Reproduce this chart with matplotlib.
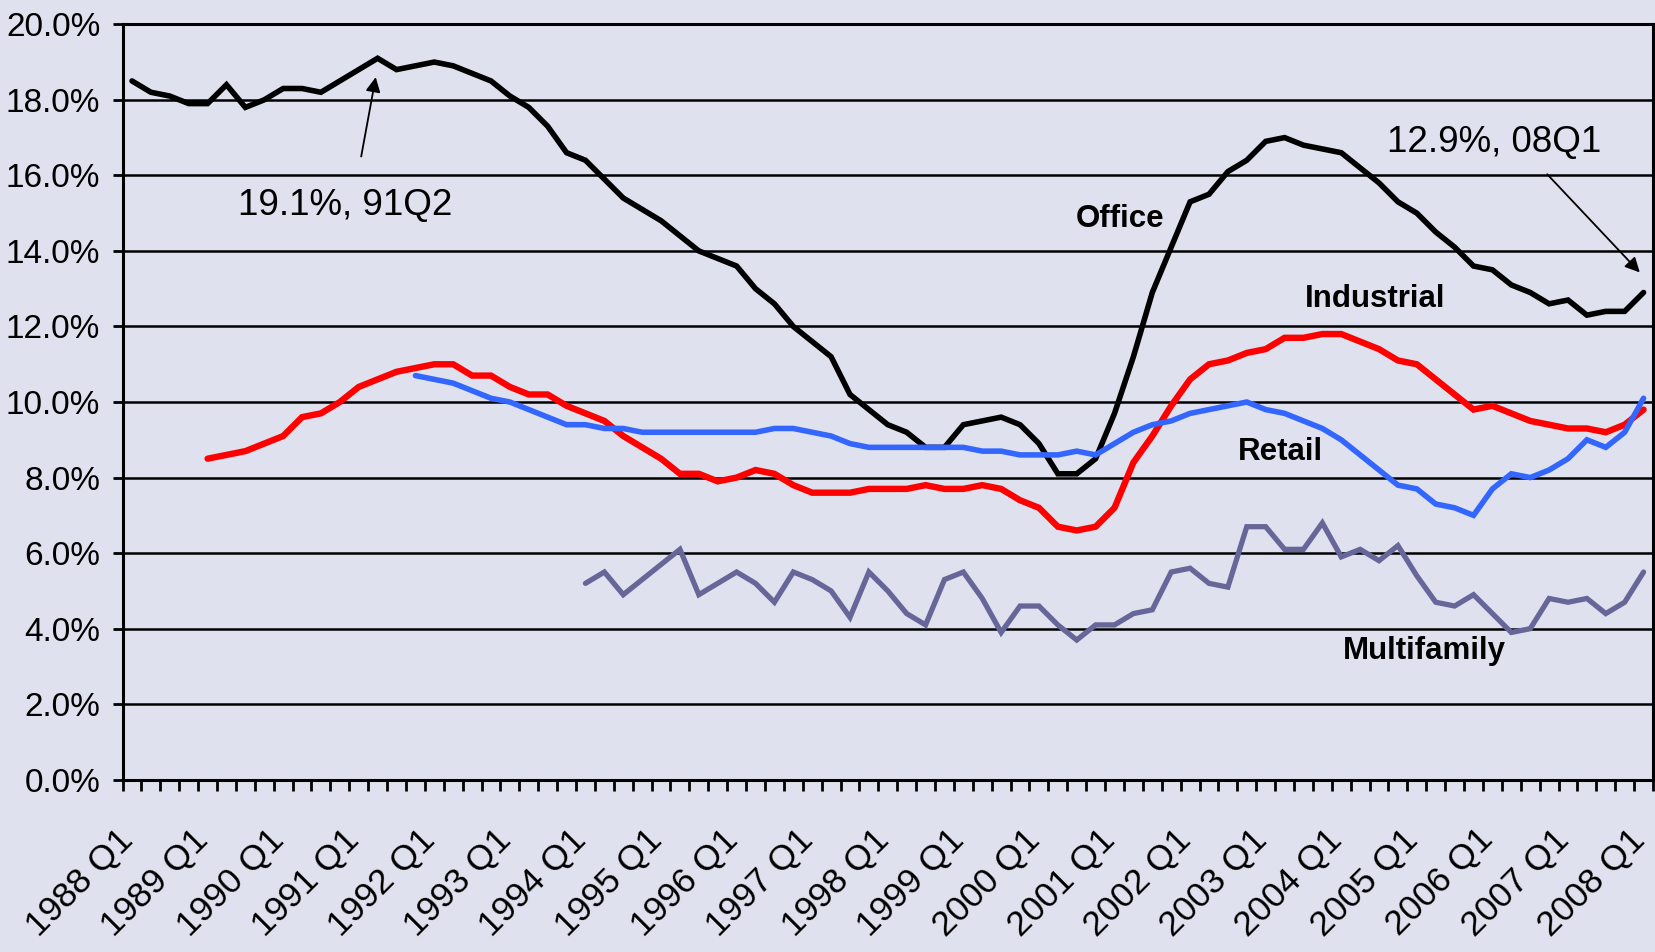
import numpy as np
import matplotlib
matplotlib.use("Agg")
import matplotlib.pyplot as plt
from matplotlib.ticker import FixedLocator, FuncFormatter
from matplotlib.transforms import ScaledTranslation

# ---------------- data ----------------
years = list(range(1988, 2009))
quarters = [f"{y} Q{q}" for y in years for q in range(1, 5)]
quarters = quarters[:quarters.index("2008 Q1") + 1]

office = [18.5, 18.2, 18.1, 17.9, 17.9, 18.4, 17.8, 18.0, 18.3, 18.3,
          18.2, 18.5, 18.8, 19.1, 18.8, 18.9, 19.0, 18.9, 18.7, 18.5,
          18.1, 17.8, 17.3, 16.6, 16.4, 15.9, 15.4, 15.1, 14.8, 14.4,
          14.0, 13.8, 13.6, 13.0, 12.6, 12.0, 11.6, 11.2, 10.2, 9.8,
          9.4, 9.2, 8.8, 8.8, 9.4, 9.5, 9.6, 9.4, 8.9, 8.1,
          8.1, 8.5, 9.7, 11.2, 12.9, 14.1, 15.3, 15.5, 16.1, 16.4,
          16.9, 17.0, 16.8, 16.7, 16.6, 16.2, 15.8, 15.3, 15.0, 14.5,
          14.1, 13.6, 13.5, 13.1, 12.9, 12.6, 12.7, 12.3, 12.4, 12.4,
          12.9]
office_start = "1988 Q1"

industrial = [8.5, 8.6, 8.7, 8.9, 9.1, 9.6, 9.7, 10.0, 10.4, 10.6, 10.8,
              10.9, 11.0, 11.0, 10.7, 10.7, 10.4,
              10.2, 10.2, 9.9, 9.7, 9.5,
              9.1, 8.8, 8.5, 8.1, 8.1,
              7.9, 8.0, 8.2, 8.1, 7.8,
              7.6, 7.6, 7.6, 7.7, 7.7,
              7.7, 7.8, 7.7, 7.7, 7.8,
              7.7, 7.4, 7.2, 6.7, 6.6,
              6.7, 7.2, 8.4, 9.1, 9.9,
              10.6, 11.0, 11.1, 11.3, 11.4,
              11.7, 11.7, 11.8, 11.8, 11.6,
              11.4, 11.1, 11.0, 10.6, 10.2,
              9.8, 9.9, 9.7, 9.5, 9.4,
              9.3, 9.3, 9.2, 9.4, 9.8]
industrial_start = "1989 Q1"

retail = [10.7, 10.6, 10.5, 10.3, 10.1, 10.0, 9.8, 9.6, 9.4, 9.4,
          9.3, 9.3, 9.2, 9.2, 9.2, 9.2, 9.2, 9.2, 9.2, 9.3,
          9.3, 9.2, 9.1, 8.9, 8.8, 8.8, 8.8, 8.8, 8.8, 8.8,
          8.7, 8.7, 8.6, 8.6, 8.6, 8.7, 8.6, 8.9, 9.2, 9.4,
          9.5, 9.7, 9.8, 9.9, 10.0, 9.8, 9.7, 9.5, 9.3, 9.0,
          8.6, 8.2, 7.8, 7.7, 7.3, 7.2, 7.0, 7.7, 8.1, 8.0,
          8.2, 8.5, 9.0, 8.8, 9.2, 10.1]
retail_start = "1991 Q4"

multifamily = [5.2, 5.5, 4.9, 5.3, 5.7, 6.1, 4.9, 5.2, 5.5, 5.2,
               4.7, 5.5, 5.3, 5.0, 4.3, 5.5, 5.0, 4.4, 4.1, 5.3,
               5.5, 4.8, 3.9, 4.6, 4.6, 4.1, 3.7, 4.1, 4.1, 4.4,
               4.5, 5.5, 5.6, 5.2, 5.1, 6.7, 6.7, 6.1, 6.1, 6.8,
               5.9, 6.1, 5.8, 6.2, 5.4, 4.7, 4.6, 4.9, 4.4, 3.9,
               4.0, 4.8, 4.7, 4.8, 4.4, 4.7, 5.5]
multifamily_start = "1994 Q1"

y_ticks = [0, 2, 4, 6, 8, 10, 12, 14, 16, 18, 20]
label_every = 4

# ---------------- style ----------------
BG = "#DFE1EE"
ARIAL = ["Liberation Sans", "DejaVu Sans"]

fig = plt.figure(figsize=(16.56, 9.52), dpi=100, facecolor=BG)
ax = fig.add_axes([0.0740, 0.1809, 0.9242, 0.7936], facecolor=BG)

def xs_for(start, vals):
    i0 = quarters.index(start)
    return np.arange(i0, i0 + len(vals))

series = [
    (office, office_start, "#000000", 4.0),
    (industrial, industrial_start, "#FF0000", 4.6),
    (retail, retail_start, "#3366FF", 4.0),
    (multifamily, multifamily_start, "#666699", 3.8),
]
for vals, start, col, lw in series:
    ax.plot(xs_for(start, vals), vals, color=col, lw=lw,
            solid_joinstyle="miter", solid_capstyle="round", zorder=3)

n = len(quarters)
ax.set_xlim(-0.5, n - 0.5)
ax.set_ylim(0, 20)

# gridlines
ax.yaxis.set_major_locator(FixedLocator(y_ticks))
ax.grid(axis="y", color="black", lw=1.8, zorder=1)
ax.grid(axis="x", visible=False)
ax.set_axisbelow(True)

ax.yaxis.set_major_formatter(FuncFormatter(lambda v, p: f"{v:.1f}%"))
ax.tick_params(axis="y", which="major", length=7, width=2, direction="out",
               pad=9, labelsize=24, color="black")
for lab in ax.get_yticklabels():
    lab.set_family(ARIAL)

# x axis: ticks between categories, labels every 4 quarters
label_pos = list(range(0, n, label_every))
ax.xaxis.set_major_locator(FixedLocator(label_pos))
ax.set_xticklabels([quarters[i] for i in label_pos])
ax.xaxis.set_minor_locator(FixedLocator(np.arange(-0.5, n, 1.0)))
ax.tick_params(axis="x", which="major", length=0, pad=31, labelsize=25.5)
ax.tick_params(axis="x", which="minor", length=8, width=2, direction="out",
               color="black")
shift = ScaledTranslation(-16 / 100, 0, fig.dpi_scale_trans)
for lab in ax.get_xticklabels():
    lab.set_family(ARIAL)
    lab.set_rotation(45)
    lab.set_ha("right")
    lab.set_va("top")
    lab.set_rotation_mode("anchor")
    lab.set_transform(lab.get_transform() + shift)

for s in ax.spines.values():
    s.set_color("black")
    s.set_linewidth(2.2)

# series labels
lab_kw = dict(fontsize=22.5, fontweight="bold", family=ARIAL, ha="center",
              va="center", zorder=5)
ax.text(52.3, 14.85, "Office", **lab_kw)
ax.text(65.8, 12.73, "Industrial", **lab_kw)
ax.text(60.8, 8.67, "Retail", **lab_kw)
ax.text(68.4, 3.41, "Multifamily", **lab_kw)

# annotations
arrow_kw = dict(arrowstyle="-|>", color="black", lw=1.3, mutation_scale=22,
                shrinkA=0, shrinkB=0)
ax.annotate("", xy=(12.9, 18.6), xytext=(12.13, 16.5), arrowprops=arrow_kw)
ax.text(11.3, 15.2, "19.1%, 91Q2", fontsize=26.5, family=ARIAL,
        ha="center", va="center")
ax.annotate("", xy=(79.8, 13.43), xytext=(74.9, 16.03), arrowprops=arrow_kw)
ax.text(72.1, 16.87, "12.9%, 08Q1", fontsize=26.5, family=ARIAL,
        ha="center", va="center")

fig.savefig("out.png", dpi=100, facecolor=BG)
